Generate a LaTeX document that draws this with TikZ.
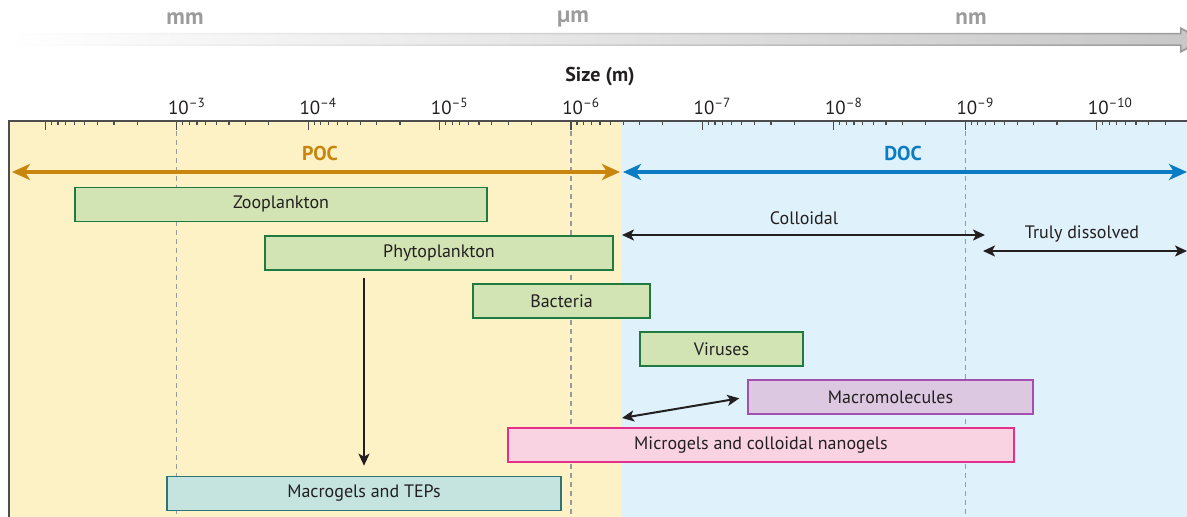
\documentclass[tikz,border=0pt]{standalone}
\usepackage{fontspec}
\setmainfont{PT Sans}
\usetikzlibrary{arrows.meta}
\definecolor{pocbg}{HTML}{FDF1C6}
\definecolor{docbg}{HTML}{DFF1FA}
\definecolor{poc}{HTML}{C8860F}
\definecolor{doc}{HTML}{0A7CC4}
\definecolor{ink}{HTML}{231F20}
\definecolor{axis}{HTML}{4D4D4D}
\definecolor{grid}{HTML}{9A9A9A}
\definecolor{unitc}{HTML}{9B9B9B}
\definecolor{leaf}{HTML}{D2E4B3}
\definecolor{leafd}{HTML}{1F7A40}
\definecolor{plum}{HTML}{DDC8E2}
\definecolor{plumd}{HTML}{A24FAF}
\definecolor{rose}{HTML}{F9D3E1}
\definecolor{rosed}{HTML}{E62E8B}
\definecolor{sea}{HTML}{C5E4DF}
\definecolor{sead}{HTML}{2F7478}

\begin{document}
\begin{tikzpicture}[
   x=0.5pt,y=-0.5pt,
   font=\fontsize{9}{11}\selectfont,
   text=ink,
   box/.style    ={line width=0.8pt,minimum height=17pt,inner sep=0pt,align=center},
   grn/.style    ={box,draw=leafd,fill=leaf},
   pur/.style    ={box,draw=plumd,fill=plum},
   pnk/.style    ={box,draw=rosed,fill=rose},
   tea/.style    ={box,draw=sead,fill=sea},
   unitlbl/.style={font=\fontsize{11.5}{13}\bfseries,text=unitc,inner sep=0pt},
   big/.style    ={font=\fontsize{10}{12}\bfseries,inner sep=0pt},
   tl/.style     ={anchor=base west,inner sep=0pt,font=\fontsize{9.5}{11}\selectfont},
   tk/.style     ={draw=axis,line width=0.6pt},
   vline/.style  ={draw=grid,line width=0.6pt,dash pattern=on 2.5pt off 2pt},
   span/.style   ={{Stealth[length=9pt,width=8pt,inset=2.5pt]}-{Stealth[length=9pt,width=8pt,inset=2.5pt]},line width=2pt},
   dim/.style    ={{Stealth[length=6pt,width=5.5pt,inset=1.5pt]}-{Stealth[length=6pt,width=5.5pt,inset=1.5pt]},draw=ink,line width=1pt},
   fl/.style     ={-{Stealth[length=6pt,width=5.5pt,inset=1.5pt]},draw=ink,line width=1pt}
  ]
  \useasboundingbox (0,0) rectangle (1187,517);
  \clip (0,0) rectangle (1187,517);

  % scale arrow
  \shade[left color=white,right color=black!40]
    (10,33) -- (1180,33) -- (1180,27) -- (1206,40) -- (1180,53) -- (1180,46) -- (10,46) -- cycle;
  \shade[left color=white,right color=black!22]
    (10,34.5) -- (1181.5,34.5) -- (1181.5,30) -- (1202,40) -- (1181.5,50) -- (1181.5,44.5) -- (10,44.5) -- cycle;
  \node[unitlbl] (mm) at (185,19) {mm};
  \node[unitlbl] (um) at (573,19) {µm};
  \node[unitlbl] (nm) at (971,19) {nm};

  \node[big] (size) at (600,77) {Size (m)};

  % regions
  \fill[pocbg] (9,121) rectangle (621,517);
  \fill[docbg] (621,121) rectangle (1187,517);
  \draw[axis,line width=0.8pt] (9,517) -- (9,121) -- (1187,121);

  % ticks
  \foreach \d in {0,...,8} {
    \draw[tk] ({45.3+131.4*\d},121) -- ({45.3+131.4*\d},130);
    \foreach \m in {2,...,9}
      \draw[tk] ({45.3+131.4*(\d+1)-131.4*log10(\m)},121) -- ++(0,4.5);
  }
  \foreach \d/\e in {1/3,2/4,3/5,4/6,5/7,6/8,7/9,8/10}
    \node[tl] (t\e) at ({45.3+131.4*\d-9},115) {10\textsuperscript{–\e}};
  \foreach \d in {1,4,7}
    \draw[vline] ({45.3+131.4*\d},131) -- ({45.3+131.4*\d},517);

  % POC / DOC
  \coordinate (pl) at (12,172);
  \coordinate (pr) at (620,172);
  \coordinate (dl) at (623,172);
  \coordinate (dr) at (1187,172);
  \draw[span,poc] (pl) -- (pr);
  \draw[span,doc] (dl) -- (dr);
  \node[big,text=poc] (pocl) at (320,154) {POC};
  \node[big,text=doc] (docl) at (903,154) {DOC};

  % colloidal / truly dissolved
  \coordinate (c1) at (622,235);
  \coordinate (c2) at (985,235);
  \coordinate (t1) at (983,251);
  \coordinate (t2) at (1187,251);
  \draw[dim] (c1) -- (c2);
  \draw[dim] (t1) -- (t2);
  \node (coll) at (804,218) {Colloidal};
  \node (truly) at (1082,234) {Truly dissolved};

  % size classes
  \node[grn,minimum width=206pt] (zoo) at (281,204.5) {Zooplankton};
  \node[grn,minimum width=174pt] (phyto) at (439,253) {Phytoplankton};
  \node[grn,minimum width=88.5pt] (bact) at (561.5,301) {Bacteria};
  \node[grn,minimum width=81.5pt] (vir) at (721.5,349) {Viruses};
  \node[pur,minimum width=142.5pt] (macmol) at (890.5,397) {Macromolecules};
  \node[pnk,minimum width=253pt] (micro) at (761,445) {Microgels and colloidal nanogels};
  \node[tea,minimum width=197pt] (macgel) at (364,493.5) {Macrogels and TEPs};

  \coordinate (mix) at (622,418);
  \draw[fl,shorten <=3.5pt,shorten >=5pt] (phyto.south -| macgel.north) -- (macgel.north);
  \draw[dim,shorten <=4pt] (macmol.west) -- (mix);
\end{tikzpicture}
\end{document}
